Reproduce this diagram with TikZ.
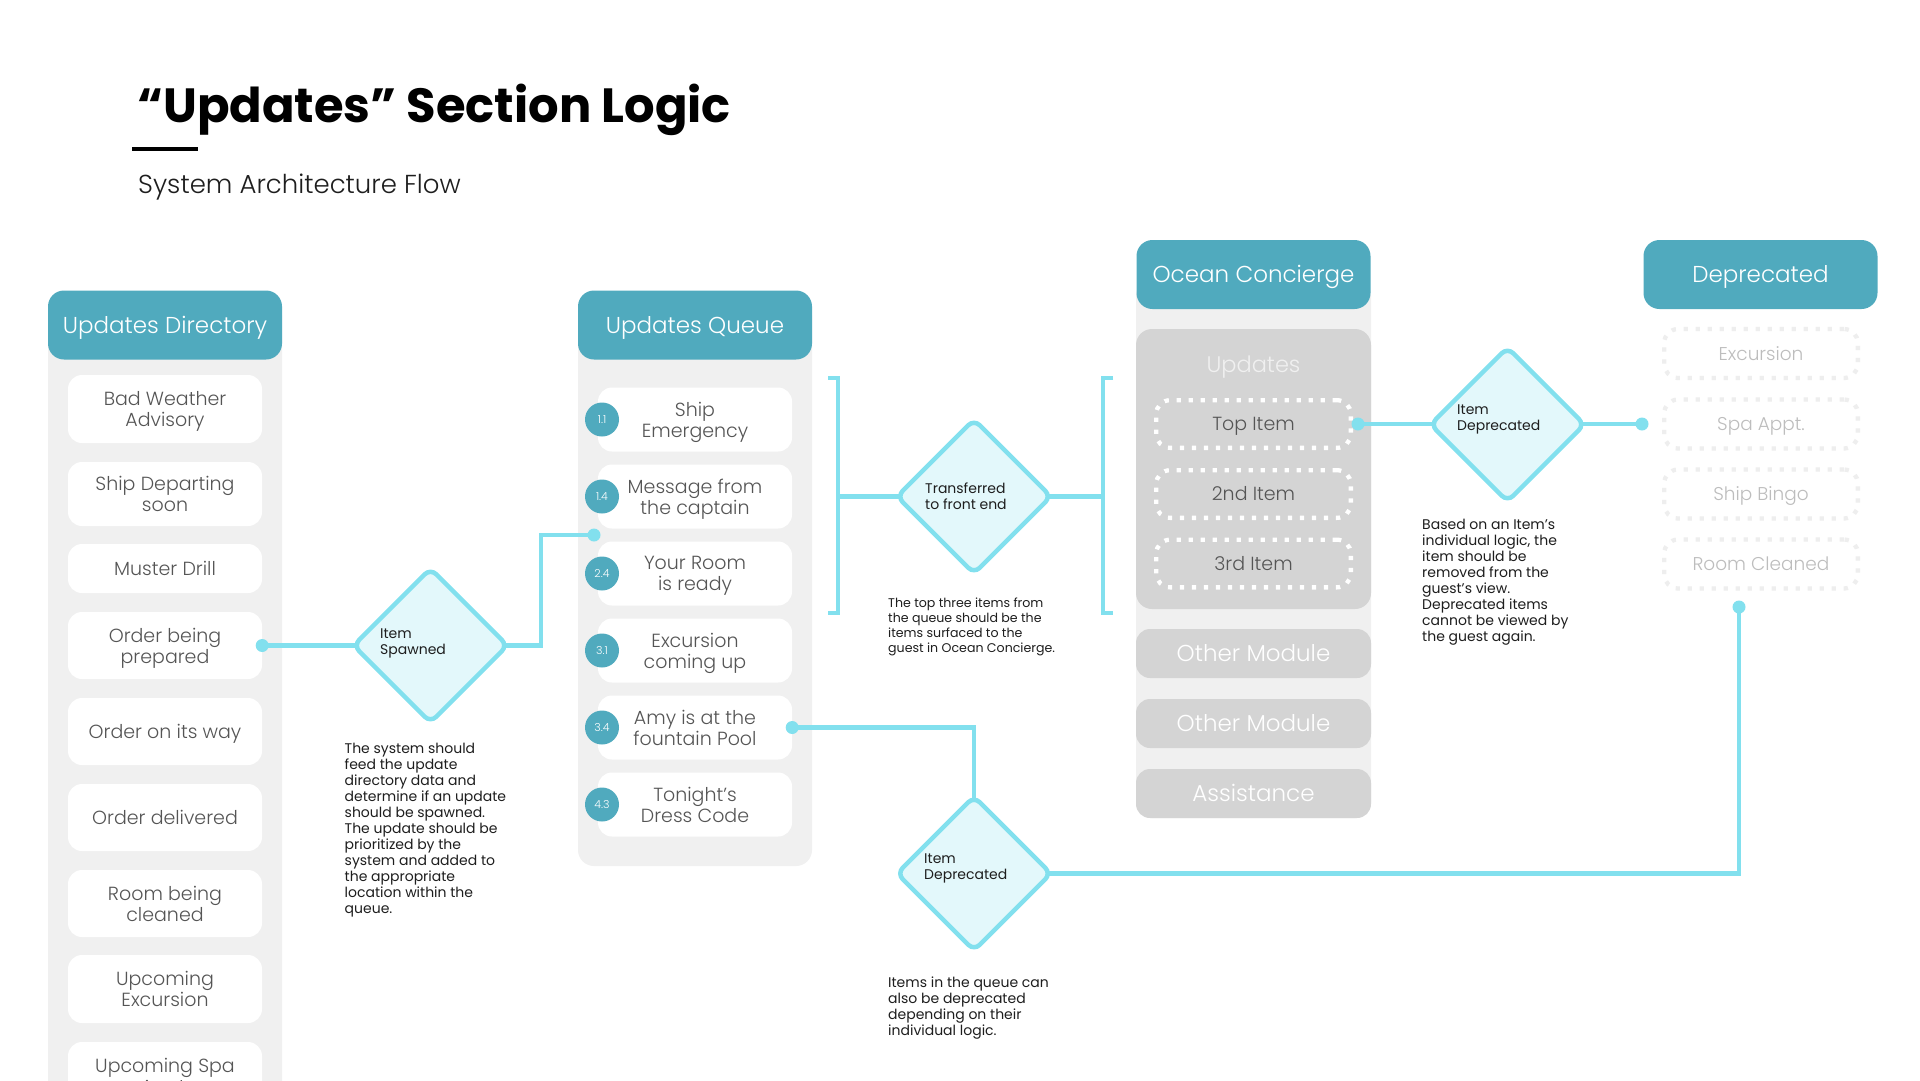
\documentclass[tikz,border=0pt]{standalone}
\usepackage{fontspec}
\setmainfont{Poppins Light}[BoldFont={Poppins Bold}]
\newfontfamily\regf{Poppins}
\usetikzlibrary{shapes.geometric}
\definecolor{hdrc}{HTML}{50AABE}
\definecolor{panelc}{HTML}{F0F0F0}
\definecolor{modc}{HTML}{D4D4D4}
\definecolor{linec}{HTML}{82E0EE}
\definecolor{diafill}{HTML}{E3F8FB}
\definecolor{itemtxt}{HTML}{555555}
\definecolor{deptxt}{HTML}{BDBDBD}
\definecolor{depdot}{HTML}{EEEEEE}
\definecolor{txtc}{HTML}{1E1E1E}
\tikzset{
  hdr/.style={fill=hdrc, rounded corners=16pt, text=white, font=\fontsize{23}{28}\selectfont, minimum width=234pt, minimum height=69pt, inner sep=0pt, text height=16pt, text depth=0pt},
  panel/.style={fill=panelc, rounded corners=16pt},
  item/.style={fill=white, rounded corners=14pt, text=itemtxt, font=\fontsize{19}{21}\selectfont, align=center, minimum width=194pt, inner sep=0pt, text depth=0pt},
  badge/.style={circle, fill=hdrc, minimum size=34pt, inner sep=0pt, text=white, font=\fontsize{11}{12}\selectfont},
  dia/.style={diamond, draw=linec, line width=4.5pt, fill=diafill, rounded corners=8pt, minimum width=154pt, minimum height=154pt, inner sep=0pt, outer sep=0pt},
  dtxt/.style={font=\regf\fontsize{14}{16}\selectfont, align=left, inner sep=0pt, anchor=base west, text=txtc},
  desc/.style={font=\regf\fontsize{14}{16}\selectfont, align=left, inner sep=0pt, anchor=base west, text=txtc},
  conn/.style={draw=linec, line width=4.5pt},
  dotc/.style={fill=linec},
  mod/.style={fill=modc, rounded corners=14pt, text=white, font=\fontsize{23}{26}\selectfont, minimum width=235pt, minimum height=49pt, inner sep=0pt, text height=16pt, text depth=0pt},
  slot/.style={draw=white, line width=4.3pt, dash pattern=on 4.3pt off 7.7pt, rounded corners=14pt, text=itemtxt, font=\fontsize{19}{22}\selectfont, minimum width=194.7pt, minimum height=47.7pt, inner sep=0pt, text height=13.5pt, text depth=0pt},
  depslot/.style={draw=depdot, line width=4.3pt, dash pattern=on 4.3pt off 7.7pt, rounded corners=14pt, text=deptxt, font=\fontsize{18.5}{22}\selectfont, minimum width=193.7pt, minimum height=49pt, inner sep=0pt, text height=13pt, text depth=0pt},
}
\begin{document}
\begin{tikzpicture}[x=1pt,y=-1pt]
\useasboundingbox (0,0) rectangle (1920,1080);
\clip (0,0) rectangle (1920,1080);
\fill[white] (0,0) rectangle (1920,1080);

% title
\node[anchor=base west, inner sep=0pt, font=\bfseries\fontsize{48}{52}\selectfont, text=black] (title) at (137,122) {“Updates” Section Logic};
\fill[black] (132,147) rectangle (198,151);
\node[anchor=base west, inner sep=0pt, font=\fontsize{26}{30}\selectfont, text=txtc] (subtitle) at (138,193) {System Architecture Flow};

% ---------- Updates Directory ----------
\fill[panel] (48,300) rectangle (282,1120);
\node[hdr] (dirh) at (165,325) {Updates Directory};
\node[item, minimum height=68pt] (d1) at (165,409) {Bad Weather\\Advisory};
\node[item, minimum height=64pt] (d2) at (165,494) {Ship Departing\\soon};
\node[item, minimum height=49pt] (d3) at (165,568.5) {Muster Drill};
\node[item, minimum height=67pt] (d4) at (165,645.5) {Order being\\prepared};
\node[item, minimum height=67pt] (d5) at (165,731.5) {Order on its way};
\node[item, minimum height=67pt] (d6) at (165,817.5) {Order delivered};
\node[item, minimum height=67pt] (d7) at (165,903.5) {Room being\\cleaned};
\node[item, minimum height=68pt] (d8) at (165,989) {Upcoming\\Excursion};
\node[item, minimum height=68pt] (d9) at (165,1076) {Upcoming Spa\\Appt.};

% ---------- Updates Queue ----------
\fill[panel] (578,300) rectangle (812,866);
\node[hdr] (qh) at (695,325) {Updates Queue};
\node[item, minimum height=64pt] (q1) at (695,419.5) {Ship\\Emergency};
\node[item, minimum height=64pt] (q2) at (695,496.5) {Message from\\the captain};
\node[item, minimum height=64pt] (q3) at (695,573.5) {Your Room\\is ready};
\node[item, minimum height=64pt] (q4) at (695,650.5) {Excursion\\coming up};
\node[item, minimum height=64pt] (q5) at (695,727.5) {Amy is at the\\fountain Pool};
\node[item, minimum height=64pt] (q6) at (695,804.5) {Tonight’s\\Dress Code};
\node[badge] (b1) at (602,419.5) {1.1};
\node[badge] (b2) at (602,496.5) {1.4};
\node[badge] (b3) at (602,573.5) {2.4};
\node[badge] (b4) at (602,650.5) {3.1};
\node[badge] (b5) at (602,727.5) {3.4};
\node[badge] (b6) at (602,804.5) {4.3};

% ---------- Ocean Concierge ----------
\fill[panel] (1136,280) rectangle (1371,818);
\node[hdr] (oh) at (1253.5,274.5) {Ocean Concierge};
\fill[modc, rounded corners=16pt] (1136,329) rectangle (1371,609);
\node[text=panelc, font=\fontsize{22.5}{28}\selectfont, inner sep=0pt, text height=16pt, text depth=0pt] (oupd) at (1253.5,364) {Updates};
\node[slot] (s1) at (1253.5,424) {Top Item};
\node[slot] (s2) at (1253.5,494) {2nd Item};
\node[slot] (s3) at (1253.5,563.5) {3rd Item};
\node[mod] (m1) at (1253.5,653.5) {Other Module};
\node[mod] (m2) at (1253.5,723.5) {Other Module};
\node[mod] (m3) at (1253.5,793.5) {Assistance};

% ---------- Deprecated ----------
\node[hdr] (deph) at (1760.5,274.5) {Deprecated};
\node[depslot] (e1) at (1761,353.5) {Excursion};
\node[depslot] (e2) at (1761,424) {Spa Appt.};
\node[depslot] (e3) at (1761,494) {Ship Bingo};
\node[depslot] (e4) at (1761,564) {Room Cleaned};

% ---------- coordinates ----------
\coordinate (qin) at (594,535);
\coordinate (lb) at (838,496.5);
\coordinate (rb) at (1103,496.5);
\coordinate (topdot) at (1358,424);
\coordinate (dpin) at (1642,424);
\coordinate (dpout) at (1739,607);

% ---------- connectors ----------
\draw[conn] (d4.east) -- (430.5,645.5);
\draw[conn] (430.5,645.5) -- (541,645.5) |- (qin);
\draw[conn] (828,378) -- (838,378) -- (838,613) -- (828,613);
\draw[conn] (1113,378) -- (1103,378) -- (1103,613) -- (1113,613);
\draw[conn] (lb) -- (rb);
\draw[conn] (topdot) -- (dpin);
\draw[conn] (q5.east) -| (974,873.5);
\draw[conn] (974,873.5) -| (dpout);

% ---------- diamonds ----------
\node[dia] (spawn) at (430.5,645.5) {};
\node[dia] (xfer) at (974,496.5) {};
\node[dia] (odep) at (1507.5,424.5) {};
\node[dia] (qdep) at (974,873.5) {};
\node[dtxt] (spawnt) at ([shift={(-50.5,8.5)}]spawn.center) {Item\\Spawned};
\node[dtxt] (xfert) at ([shift={(-49,12.5)}]xfer.center) {Transferred\\to front end};
\node[dtxt] (odept) at ([shift={(-50.5,5.5)}]odep.center) {Item\\Deprecated};
\node[dtxt] (qdept) at ([shift={(-50,5.5)}]qdep.center) {Item\\Deprecated};

% ---------- dots ----------
\fill[dotc] (d4.east) circle (6.5pt);
\fill[dotc] (qin) circle (6.5pt);
\fill[dotc] (topdot) circle (6.5pt);
\fill[dotc] (dpin) circle (6.5pt);
\fill[dotc] (q5.east) circle (6.5pt);
\fill[dotc] (dpout) circle (6.5pt);

% ---------- descriptions (anchored at the baseline of the last line) ----------
\node[desc] (desc1) at (344.5,913) {The system should\\feed the update\\directory data and\\determine if an update\\should be spawned.\\The update should be\\prioritized by the\\system and added to\\the appropriate\\location within the\\queue.};
\node[desc, font=\regf\fontsize{12.6}{15}\selectfont] (desc2) at (888,652) {The top three items from\\the queue should be the\\items surfaced to the\\guest in Ocean Concierge.};
\node[desc] (desc3) at (1422,641) {Based on an Item’s\\individual logic, the\\item should be\\removed from the\\guest’s view.\\Deprecated items\\cannot be viewed by\\the guest again.};
\node[desc] (desc4) at (888,1035) {Items in the queue can\\also be deprecated\\depending on their\\individual logic.};
\end{tikzpicture}
\end{document}
